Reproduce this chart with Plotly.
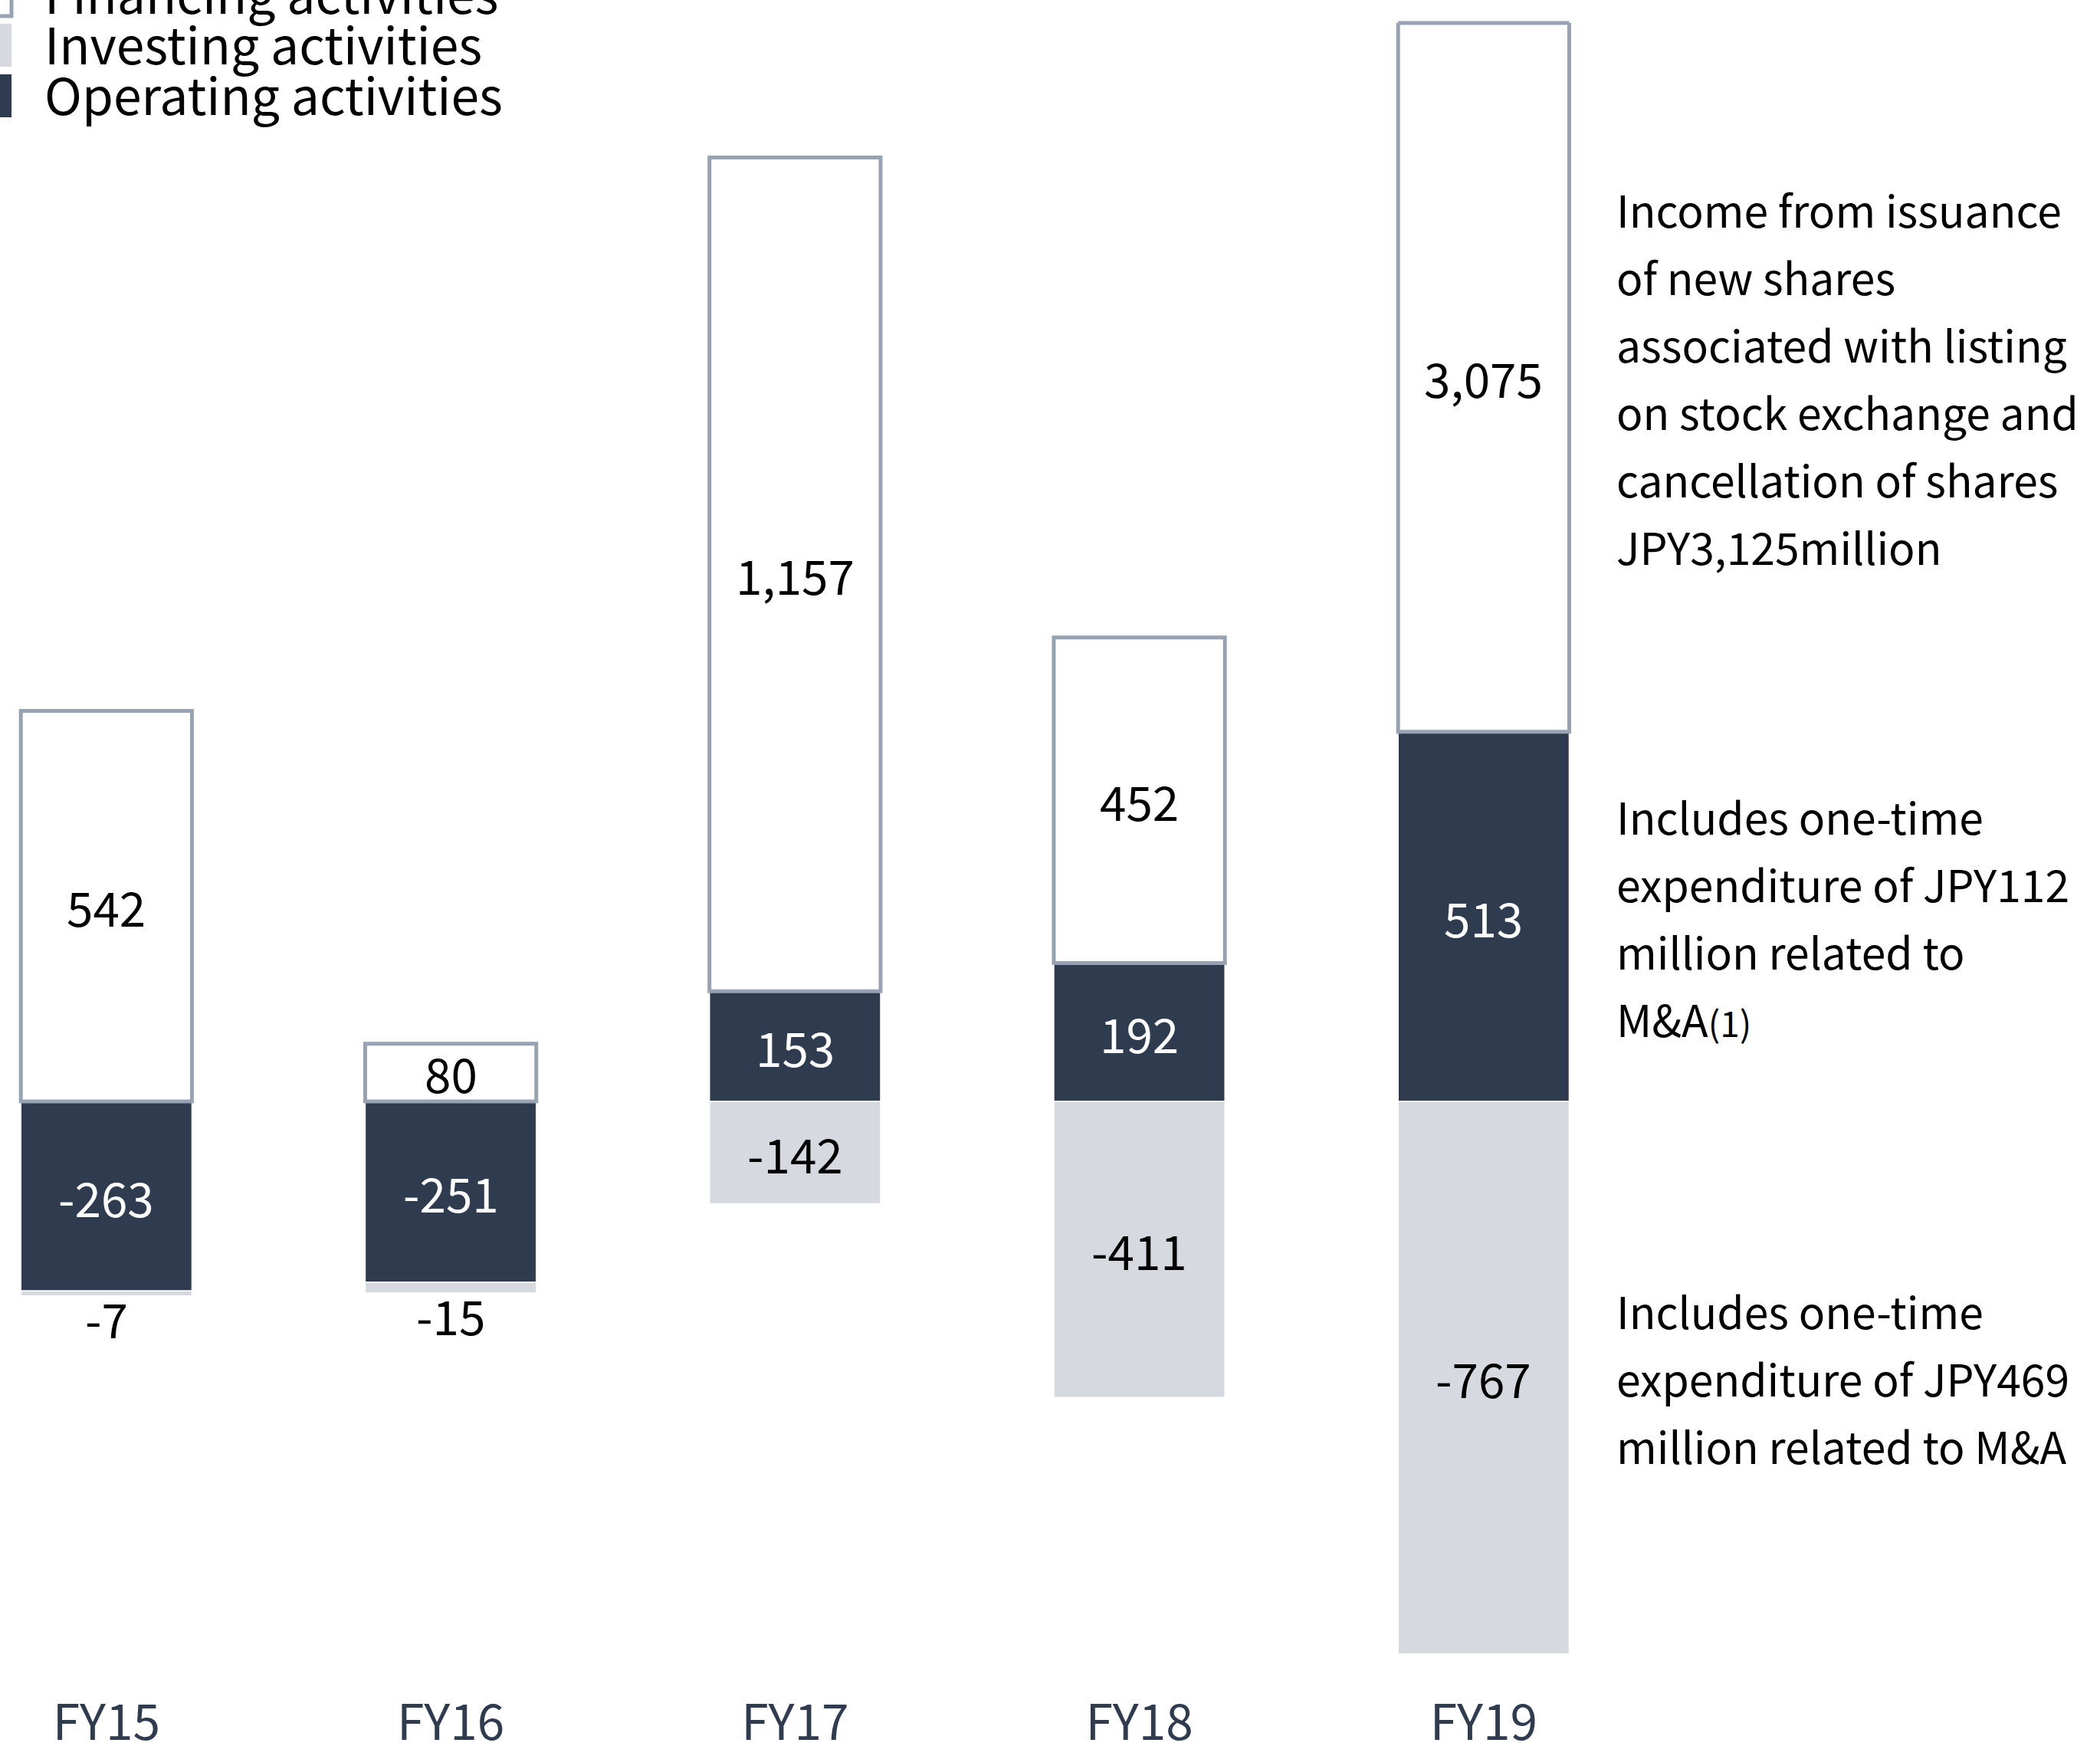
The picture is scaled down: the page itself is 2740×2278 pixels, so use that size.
import plotly.graph_objects as go

# Consolidated cash flows by activity (JPY million)
years = ["FY15", "FY16", "FY17", "FY18", "FY19"]
operating = [-263, -251, 153, 192, 513]
investing = [-7, -15, -142, -411, -767]
financing = [542, 80, 1157, 452, 3075]

series_names = ["Operating activities", "Investing activities", "Financing activities"]

# Notes printed beside the FY19 column, one per segment
note_financing = ["Income from issuance", "of new shares", "associated with listing",
                  "on stock exchange and", "cancellation of shares", "JPY3,125million"]
note_operating = ["Includes one-time", "expenditure of JPY112", "million related to",
                  "M&A<span style='font-size:46px'>(1)</span>"]
note_investing = ["Includes one-time", "expenditure of JPY469", "million related to M&A"]

NAVY = "#2f3c4f"
GREY = "#d6d9e0"
OUTLINE = "#97a3b3"
FONT = "Noto Sans CJK JP"

W, H = 2740, 2278
M_TOP, M_BOTTOM = 30, 73
PLOT_H = H - M_TOP - M_BOTTOM
BASELINE_PX = 1437          # vertical pixel of the zero line
PX_PER_UNIT = 0.94
Y_RANGE = [-(H - M_BOTTOM - BASELINE_PX) / PX_PER_UNIT, (BASELINE_PX - M_TOP) / PX_PER_UNIT]
X_RANGE = [-0.309, 5.79]
BAR_W = 0.497
LABEL_SIZE = 62
NOTE_SIZE = 57
NOTE_PITCH = 88
LEGEND_SIZE = 66


def paper_x(px):
    return px / W


def paper_y(py):
    return 1 - (py - M_TOP) / PLOT_H


styles = {
    "Operating activities": dict(color=NAVY, line=dict(color="white", width=1.5)),
    "Investing activities": dict(color=GREY, line=dict(color="white", width=1.5)),
    "Financing activities": dict(color="white", line=dict(color=OUTLINE, width=5)),
}
values = {
    "Operating activities": operating,
    "Investing activities": investing,
    "Financing activities": financing,
}

fig = go.Figure()
for name in series_names:
    fig.add_trace(go.Bar(
        name=name, x=years, y=values[name], width=BAR_W,
        marker=styles[name], showlegend=False, hoverinfo="x+y+name",
    ))

# Stack the segments the same way barmode="relative" does, to place labels
pos_base = [0.0] * len(years)
neg_base = [0.0] * len(years)
segments = {}
for name in series_names:
    segs = []
    for i, v in enumerate(values[name]):
        if v >= 0:
            lo, hi = pos_base[i], pos_base[i] + v
            pos_base[i] = hi
        else:
            lo, hi = neg_base[i] + v, neg_base[i]
            neg_base[i] = lo
        segs.append((lo, hi))
    segments[name] = segs

annotations = []
shapes = []
label_centre = {}
for name in series_names:
    for i, v in enumerate(values[name]):
        lo, hi = segments[name][i]
        lo_v, hi_v = max(lo, Y_RANGE[0]), min(hi, Y_RANGE[1])
        centre = (lo_v + hi_v) / 2
        label_centre[(name, i)] = centre
        colour = "white" if name == "Operating activities" else "black"
        if (hi_v - lo_v) * PX_PER_UNIT < 45:
            # too thin for the number: print it just below the column
            annotations.append(dict(x=years[i], y=lo, xref="x", yref="y", text=f"{v:,}",
                                    showarrow=False, yanchor="middle", yshift=-28,
                                    font=dict(family=FONT, size=LABEL_SIZE, color="black")))
        else:
            annotations.append(dict(x=years[i], y=centre, xref="x", yref="y", text=f"{v:,}",
                                    showarrow=False, yanchor="middle",
                                    font=dict(family=FONT, size=LABEL_SIZE, color=colour)))
        if hi > Y_RANGE[1]:
            # column runs past the top of the chart: close it off at the edge
            shapes.append(dict(type="line", xref="x", yref="paper",
                               x0=i - BAR_W / 2, x1=i + BAR_W / 2, y0=1, y1=1,
                               line=dict(color=OUTLINE, width=5)))

# Notes beside FY19, centred on the matching segment
notes = {
    "Financing activities": note_financing,
    "Operating activities": note_operating,
    "Investing activities": note_investing,
}
last = len(years) - 1
for name, lines in notes.items():
    centre = label_centre[(name, last)]
    n = len(lines)
    for j, line in enumerate(lines):
        annotations.append(dict(x=last + 0.38, y=centre, xref="x", yref="y", text=line,
                                showarrow=False, xanchor="left", yanchor="middle",
                                yshift=-(j - (n - 1) / 2) * NOTE_PITCH,
                                font=dict(family=FONT, size=NOTE_SIZE, color="black")))

# Legend in the top-left corner (largely cropped by the page edge)
legend_order = ["Financing activities", "Investing activities", "Operating activities"]
LEG_ROW0, LEG_PITCH, LEG_HALF = -11, 66, 28
for k, name in enumerate(legend_order):
    cy = LEG_ROW0 + k * LEG_PITCH
    st = styles[name]
    if name == "Financing activities":
        sw_line = dict(color=OUTLINE, width=5)
    else:
        sw_line = dict(width=0)
    shapes.append(dict(type="rect", xref="paper", yref="paper",
                       x0=paper_x(-40), x1=paper_x(15),
                       y0=paper_y(cy + LEG_HALF + 4), y1=paper_y(cy - LEG_HALF + 4),
                       fillcolor=st["color"], line=sw_line, layer="above"))
    annotations.append(dict(x=paper_x(56), y=paper_y(cy), xref="paper", yref="paper",
                            text=name, showarrow=False, xanchor="left", yanchor="middle",
                            font=dict(family=FONT, size=LEGEND_SIZE, color="black")))

fig.update_layout(
    width=W, height=H,
    barmode="relative",
    margin=dict(l=0, r=0, t=M_TOP, b=M_BOTTOM, autoexpand=False),
    paper_bgcolor="white", plot_bgcolor="white",
    font=dict(family=FONT, color="black"),
    xaxis=dict(range=X_RANGE, showgrid=False, zeroline=False, showline=False, ticks="",
               tickfont=dict(family=FONT, size=64, color=NAVY)),
    yaxis=dict(range=Y_RANGE, visible=False, showgrid=False, zeroline=False),
    annotations=annotations,
    shapes=shapes,
    showlegend=False,
)

fig.write_html("out.html")
